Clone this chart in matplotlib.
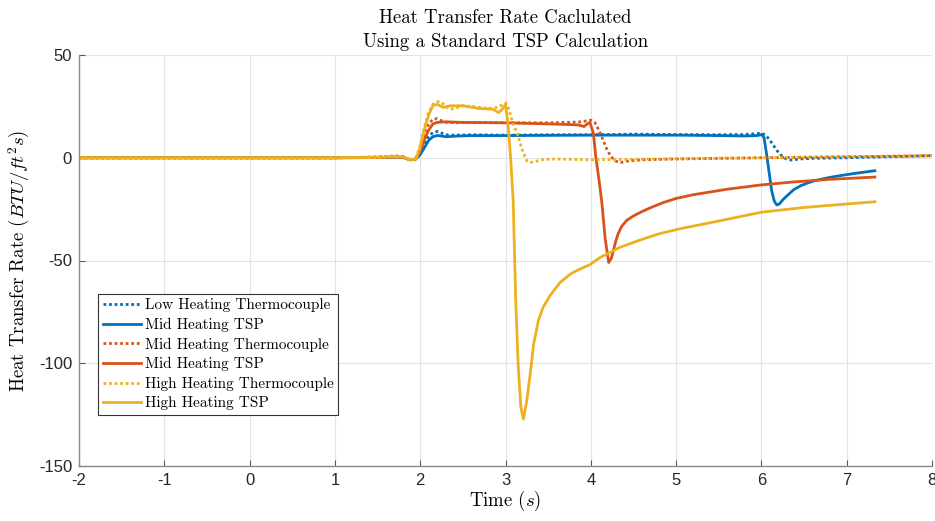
import numpy as np
import matplotlib.pyplot as plt

plt.rcParams['mathtext.fontset'] = 'cm'
plt.rcParams['axes.unicode_minus'] = False

# MATLAB default colours
blue = '#0072BD'
red = '#D95319'
yellow = '#EDB120'

# Low heating thermocouple
t_low_tc = [-2, 1.0, 1.5, 1.7, 1.8, 1.88, 1.95, 2.0, 2.05, 2.1, 2.15, 2.2, 2.25, 2.3,
            2.4, 2.6, 3.0, 3.5, 4.0, 4.5, 5.0, 5.5, 5.8, 5.95, 6.0, 6.05, 6.1, 6.15,
            6.2, 6.25, 6.3, 6.35, 6.45, 6.6, 7.0, 7.5, 8.0]
q_low_tc = [0, 0, 0.3, 0.8, 0.6, -1.2, -0.5, 3, 7, 10.5, 12.3, 12.8, 12, 11.2,
            11, 11.2, 11, 11.2, 11.2, 11.5, 11.3, 11.2, 11.3, 11.8, 12, 11, 8.5, 5.5,
            2.5, 0.5, -0.8, -1.1, -0.6, -0.3, 0, 0.5, 1]

# Low heating TSP (labelled "Mid Heating TSP" in the legend)
t_low_tsp = [-2, 1.0, 1.5, 1.7, 1.8, 1.88, 1.95, 2.0, 2.05, 2.1, 2.15, 2.2, 2.25, 2.3,
             2.4, 2.6, 3.0, 3.5, 4.0, 4.5, 5.0, 5.5, 5.8, 5.95, 6.0, 6.03, 6.06, 6.09,
             6.12, 6.15, 6.18, 6.21, 6.25, 6.3, 6.38, 6.46, 6.54, 6.62, 6.75, 6.85,
             7.0, 7.15, 7.33]
q_low_tsp = [0, 0, 0.1, 0.3, 0.2, -1, -0.6, 1.5, 5, 8.5, 10.3, 10.8, 10.6, 10.2,
             10.5, 10.8, 10.8, 10.9, 11, 11, 11, 10.8, 10.6, 10.8, 11.3, 10, 2, -7,
             -16, -21, -23, -22.5, -20.5, -18.5, -15.5, -13.6, -12.3, -11.2, -10, -9.2,
             -8.2, -7.3, -6.3]

# Mid heating thermocouple
t_mid_tc = [-2, 1.0, 1.5, 1.7, 1.8, 1.88, 1.95, 2.0, 2.05, 2.1, 2.15, 2.2, 2.25, 2.3,
            2.4, 2.6, 3.0, 3.5, 3.8, 3.9, 3.95, 4.0, 4.05, 4.1, 4.15, 4.2, 4.25, 4.3,
            4.35, 4.45, 4.6, 5.0, 6.0, 7.0, 8.0]
q_mid_tc = [0, 0, 0.3, 0.8, 0.6, -1.2, -0.5, 5, 12, 16.5, 18.8, 19, 18, 17.3,
            17, 17.2, 17, 17, 17.3, 17.5, 18, 18.3, 17, 13, 8, 3, 0, -1.8,
            -2.3, -1.5, -1, -0.6, 0, 0.5, 1]

# Mid heating TSP
t_mid_tsp = [-2, 1.0, 1.5, 1.7, 1.8, 1.88, 1.95, 2.0, 2.05, 2.1, 2.15, 2.2, 2.3, 2.5,
             3.0, 3.5, 3.85, 3.92, 3.96, 3.99, 4.03, 4.06, 4.1, 4.13, 4.17, 4.21,
             4.24, 4.26, 4.29, 4.32, 4.36, 4.42, 4.5, 4.6, 4.7, 4.85, 5.0, 5.2, 5.6,
             6.0, 6.4, 6.8, 7.33]
q_mid_tsp = [0, 0, 0.1, 0.3, 0.2, -1, -0.6, 3, 9, 13.5, 16.5, 17.2, 17.5, 17.2,
             17, 16.5, 16, 15.2, 16.5, 17.2, 12, 0, -12, -22, -40, -51,
             -49, -46, -41, -37, -33.5, -30.5, -28.3, -26.2, -24.3, -21.8, -19.8, -18,
             -15.3, -13.2, -11.7, -10.5, -9.4]

# High heating thermocouple
t_high_tc = [-2, 1.0, 1.5, 1.7, 1.8, 1.88, 1.95, 2.0, 2.05, 2.1, 2.15, 2.2, 2.25, 2.3,
             2.35, 2.4, 2.5, 2.6, 2.7, 2.8, 2.9, 2.95, 3.0, 3.03, 3.07, 3.1, 3.13,
             3.2, 3.25, 3.29, 3.35, 3.45, 3.6, 4.0, 5.0, 6.0, 7.0, 8.0]
q_high_tc = [0, 0, 0.3, 0.9, 0.6, -1.3, -0.5, 6, 15, 22, 26, 27.3, 27, 25,
             23.6, 24, 25.3, 25, 24.5, 24, 24.5, 25.5, 26.6, 25, 19, 15, 13,
             3.4, -1.5, -2.3, -1.8, -0.8, -0.6, -1, -0.5, 0, 0.5, 1]

# High heating TSP
t_high_tsp = [-2, 1.0, 1.5, 1.7, 1.8, 1.88, 1.95, 2.0, 2.05, 2.1, 2.15, 2.2, 2.27, 2.35,
              2.5, 2.69, 2.85, 2.92, 2.96, 3.0, 3.03, 3.06, 3.09, 3.12, 3.15, 3.18,
              3.21, 3.25, 3.29, 3.33, 3.385, 3.44, 3.52, 3.64, 3.76, 3.87, 3.99, 4.11,
              4.23, 4.34, 4.58, 4.8, 5.05, 5.51, 6.0, 6.5, 7.0, 7.33]
q_high_tsp = [0, 0, 0.2, 0.5, 0.4, -1, -0.5, 5, 14, 21, 25.5, 26, 24.5, 25.3,
              25.3, 24, 23.6, 22, 23.5, 26, 16, 0, -21, -70, -102, -121.5,
              -127.2, -118, -105, -90.7, -79.3, -72.8, -67.2, -60.7, -56.6, -54.2, -52,
              -48.5, -46, -43.6, -40, -37, -34.5, -30.7, -26.5, -24.2, -22.5, -21.4]

fig = plt.figure(figsize=(9.35, 5.21), dpi=100)
ax = fig.add_axes([0.0845, 0.1056, 0.9123, 0.7888])

lw = 2.0
dot = (0, (1, 1))
ax.plot(t_low_tc, q_low_tc, color=blue, lw=lw, ls=dot, label='Low Heating Thermocouple')
ax.plot(t_low_tsp, q_low_tsp, color=blue, lw=lw, label='Mid Heating TSP')
ax.plot(t_mid_tc, q_mid_tc, color=red, lw=lw, ls=dot, label='Mid Heating Thermocouple')
ax.plot(t_mid_tsp, q_mid_tsp, color=red, lw=lw, label='Mid Heating TSP')
ax.plot(t_high_tc, q_high_tc, color=yellow, lw=lw, ls=dot, label='High Heating Thermocouple')
ax.plot(t_high_tsp, q_high_tsp, color=yellow, lw=lw, label='High Heating TSP')

ax.set_xlim(-2, 8)
ax.set_ylim(-150, 50)
ax.set_xticks(np.arange(-2, 9, 1))
ax.set_yticks(np.arange(-150, 51, 50))

ax.grid(True, color='#e3e3e3', lw=0.8)
ax.set_axisbelow(True)
for side in ['top', 'right']:
    ax.spines[side].set_visible(False)
for side in ['left', 'bottom']:
    ax.spines[side].set_color('#8a8a8a')
    ax.spines[side].set_linewidth(1.0)
ax.tick_params(direction='in', length=4, color='#5a5a5a', labelcolor='#262626',
               labelsize=12, pad=5)
for lab in ax.get_xticklabels() + ax.get_yticklabels():
    lab.set_family('Liberation Sans')

serif = ['cmr10', 'DejaVu Serif']
ax.set_title('Heat Transfer Rate Caclulated\nUsing a Standard TSP Calculation',
             family=serif, fontsize=13.5, pad=6, linespacing=1.4)
ax.set_xlabel('Time $(s)$', family=serif, fontsize=13.5, labelpad=1)
ax.set_ylabel('Heat Transfer Rate $(BTU/ft^2s)$', family=serif, fontsize=13.5, labelpad=5)

leg = ax.legend(loc='lower left', bbox_to_anchor=(0.0223, 0.124), borderaxespad=0,
                prop={'family': serif, 'size': 11}, fancybox=False, framealpha=1,
                edgecolor='#333333', handlelength=2.5, handletextpad=0.25,
                labelspacing=0.36, borderpad=0.3)
leg.get_frame().set_linewidth(0.8)

fig.savefig('out.png', dpi=100)
